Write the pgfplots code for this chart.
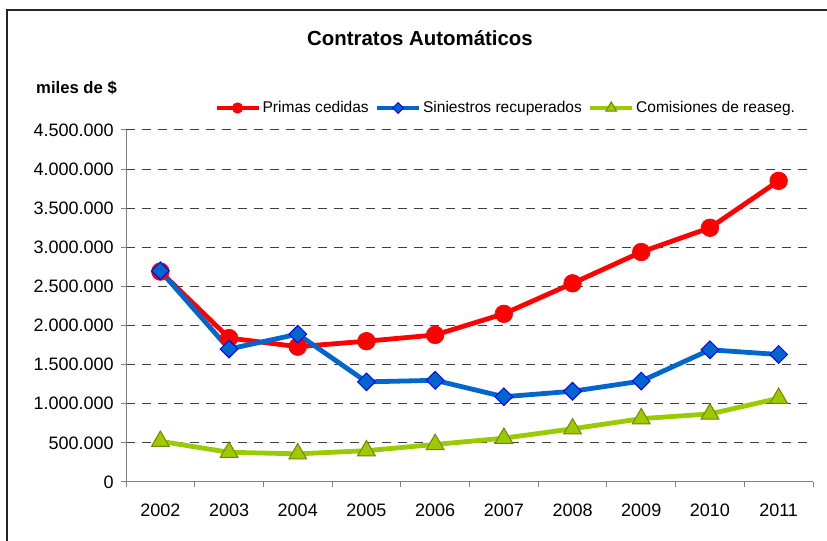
\documentclass[border=0pt]{standalone}
\usepackage{pgfplots}
\pgfplotsset{compat=1.18}
\usepackage{fontspec}
\setmainfont{Liberation Sans}
\definecolor{cred}{HTML}{FF0000}
\definecolor{cblue}{HTML}{0066CC}
\definecolor{cblueb}{HTML}{0000FF}
\definecolor{cgreen}{HTML}{99CC00}
\definecolor{colive}{HTML}{808000}
\definecolor{caxis}{HTML}{808080}
\begin{document}
\begin{tikzpicture}
\useasboundingbox (0pt,0pt) rectangle (620.25pt,405.75pt);
\draw[line width=1.5pt, black!85] (5.25pt,-5pt) -- (5.25pt,398.25pt) -- (630pt,398.25pt);
\node[font=\fontsize{15.3}{18}\selectfont\bfseries] at (315pt,377.25pt) {Contratos Automáticos};
\node[font=\fontsize{12.5}{15}\selectfont\bfseries] at (57.4pt,339.75pt) {miles de \$};
\begin{axis}[
  at={(94.5pt,44.25pt)}, anchor=south west,
  scale only axis, width=515.25pt, height=264pt,
  xmin=-0.5, xmax=9.5, ymin=0, ymax=4500000,
  axis x line=bottom, axis y line=left,
  axis line style={-, caxis, line width=0.75pt},
  xtick={0,...,9},
  xticklabels={2002,2003,2004,2005,2006,2007,2008,2009,2010,2011},
  minor xtick={-0.5,0.5,...,9.5},
  ytick={0,500000,1000000,1500000,2000000,2500000,3000000,3500000,4000000,4500000},
  scaled y ticks=false,
  tick align=outside,
  major tick length=3.75pt, minor tick length=3.75pt,
  major x tick style={draw=none},
  minor x tick style={caxis, line width=0.75pt},
  major y tick style={caxis, line width=0.75pt},
  ymajorgrids,
  grid style={black!75, line width=0.75pt, dash pattern=on 6.75pt off 5.25pt},
  ticklabel style={font=\fontsize{13.5}{16}\selectfont},
  yticklabel style={xshift=-2pt, /pgf/number format/.cd, fixed, 1000 sep={.}, assume math mode=true},
  xticklabel style={yshift=-9.5pt, /pgf/number format/.cd, assume math mode=true, 1000 sep={}},
  clip=false,
  legend style={at={(0.128,1.0625)}, anchor=west, draw=none, fill=none,
    font=\fontsize{11.65}{14}\selectfont, inner sep=0pt,
    nodes={inner sep=1.2pt},
    /tikz/every even column/.append style={column sep=3.2pt}},
  legend columns=3,
  legend image code/.code={\draw[mark repeat=2,mark phase=2,#1, every mark/.append style={scale=0.6}] plot coordinates {(0pt,0pt) (15.75pt,0pt) (31.5pt,0pt)};},
]
\addplot[cred, line width=3.6pt, mark=*, mark size=6.6pt, mark options={fill=cred, draw=cred, line width=0.5pt}]
  coordinates {(0,2690000) (1,1840000) (2,1730000) (3,1800000) (4,1880000) (5,2150000) (6,2540000) (7,2940000) (8,3250000) (9,3850000)};
\addlegendentry{Primas cedidas}
\addplot[cblue, line width=3.6pt, mark=square*, mark size=4.7pt, mark options={fill=cblue, draw=cblueb, line width=0.75pt, rotate=45}]
  coordinates {(0,2700000) (1,1700000) (2,1890000) (3,1280000) (4,1300000) (5,1090000) (6,1160000) (7,1290000) (8,1690000) (9,1630000)};
\addlegendentry{Siniestros recuperados}
\addplot[cgreen, line width=3.6pt, mark=triangle*, mark size=7.7pt, mark options={fill=cgreen, draw=colive, line width=0.75pt}]
  coordinates {(0,520000) (1,380000) (2,360000) (3,400000) (4,480000) (5,560000) (6,680000) (7,810000) (8,870000) (9,1070000)};
\addlegendentry{Comisiones de reaseg.}
\end{axis}
\end{tikzpicture}
\end{document}
